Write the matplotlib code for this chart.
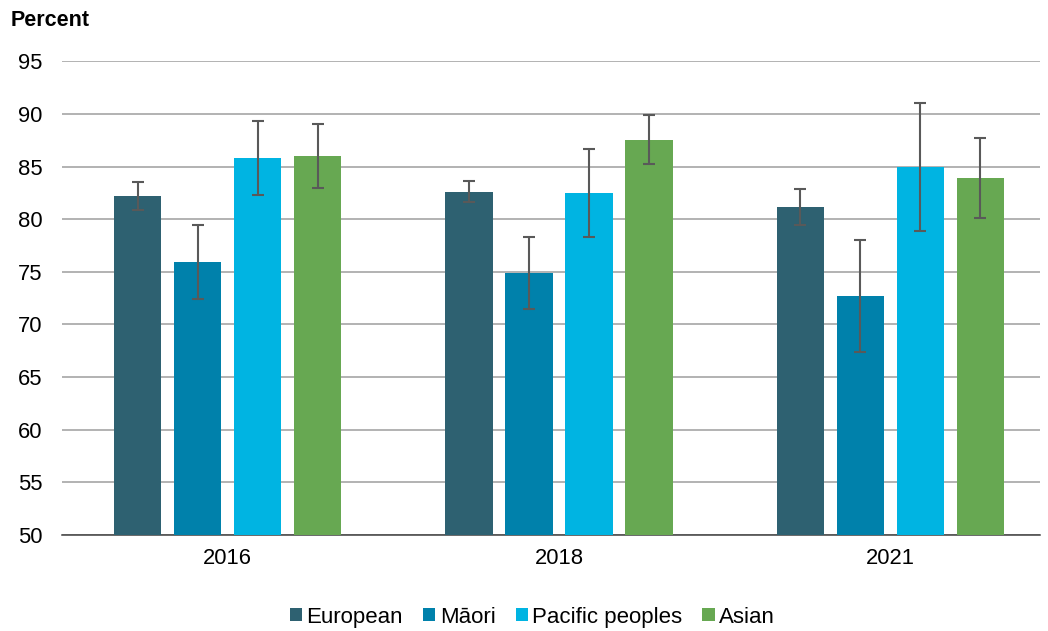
import matplotlib.pyplot as plt
import numpy as np

plt.rcParams['font.family'] = ['Liberation Sans', 'DejaVu Sans']

# data
years = ['2016', '2018', '2021']
groups = ['European', 'Māori', 'Pacific peoples', 'Asian']
colors = ['#2E6171', '#0081AB', '#00B4E2', '#67A852']

values = {
    'European':        [82.2, 82.6, 81.2],
    'Māori':           [75.9, 74.9, 72.7],
    'Pacific peoples': [85.8, 82.5, 85.0],
    'Asian':           [86.0, 87.5, 83.9],
}
err_low = {
    'European':        [80.9, 81.6, 79.4],
    'Māori':           [72.4, 71.5, 67.4],
    'Pacific peoples': [82.3, 78.3, 78.9],
    'Asian':           [83.0, 85.2, 80.1],
}
err_high = {
    'European':        [83.5, 83.6, 82.9],
    'Māori':           [79.4, 78.3, 78.0],
    'Pacific peoples': [89.3, 86.7, 91.0],
    'Asian':           [89.0, 89.9, 87.7],
}

fig = plt.figure(figsize=(10.48, 6.31), dpi=100)
ax = fig.add_axes([0.059, 0.152, 0.933, 0.751])

x = np.arange(len(years))
width = 0.142
step = 0.181

for i, (g, c) in enumerate(zip(groups, colors)):
    pos = x + (i - 1.5) * step
    v = np.array(values[g])
    lo = v - np.array(err_low[g])
    hi = np.array(err_high[g]) - v
    ax.bar(pos, v - 50, width, bottom=50, color=c, label=g, zorder=3)
    ax.errorbar(pos, v, yerr=[lo, hi], fmt='none', ecolor='#595959',
                elinewidth=1.5, capsize=4.5, capthick=1.5, zorder=4)

ax.set_ylim(50, 95)
ax.set_xlim(-0.5, 2.45)
ax.set_yticks(np.arange(50, 96, 5))
ax.set_xticks(x)
ax.set_xticklabels(years)
ax.yaxis.grid(True, color='#a6a6a6', linewidth=1.2, zorder=0)
ax.set_axisbelow(True)
for s in ['top', 'right', 'left']:
    ax.spines[s].set_visible(False)
ax.spines['bottom'].set_color('#404040')
ax.spines['bottom'].set_linewidth(1.1)
ax.tick_params(axis='both', length=0, labelsize=15.8, colors='#000000')
ax.tick_params(axis='x', pad=9)
ax.tick_params(axis='y', pad=14)

fig.text(0.01, 0.968, 'Percent', fontsize=15.5, fontweight='bold', ha='left', va='center')

handles, labels = ax.get_legend_handles_labels()
fig.legend(handles, labels, loc='center', bbox_to_anchor=(0.508, 0.022), ncol=4,
           frameon=False, fontsize=16, handlelength=0.55, handleheight=0.55,
           handletextpad=0.2, columnspacing=0.9)

plt.savefig('out.png', dpi=100)
